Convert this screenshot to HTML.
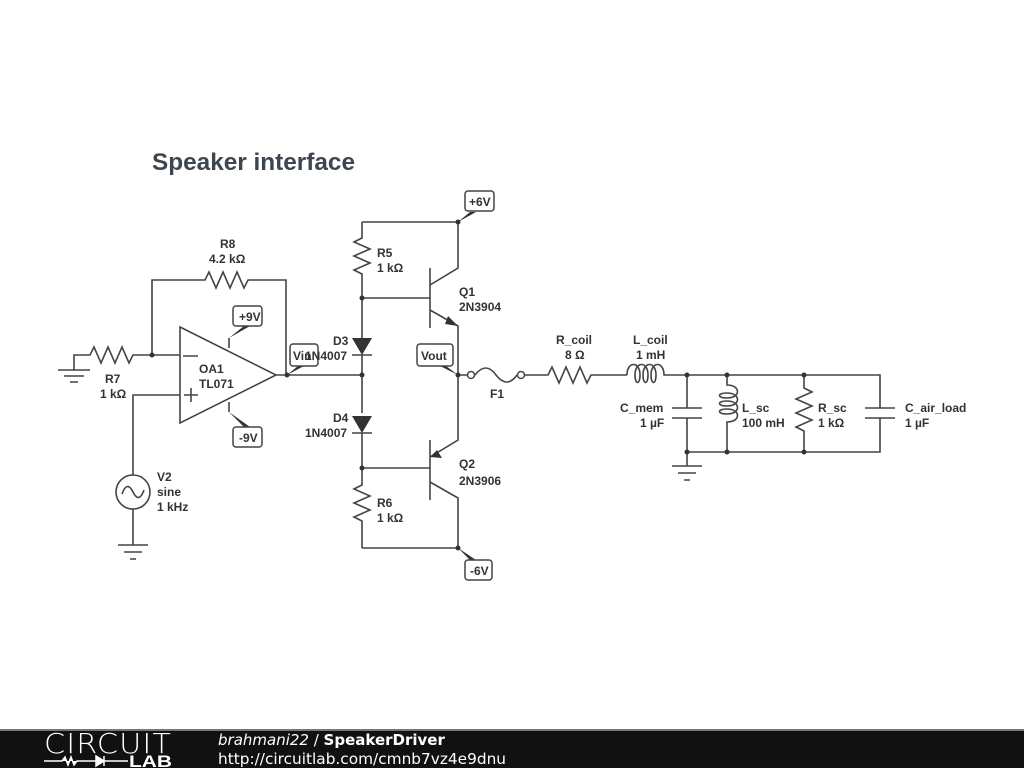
<!DOCTYPE html>
<html><head><meta charset="utf-8"><style>
html,body{margin:0;padding:0;background:#fff;width:1024px;height:768px;overflow:hidden}
svg{display:block}
.t{font-family:"Liberation Sans",sans-serif;font-weight:bold;font-size:12px;fill:#333}
.w{stroke:#444;stroke-width:1.6;fill:none}
</style></head><body>
<svg width="1024" height="768" viewBox="0 0 1024 768">
<text x="152" y="170" font-family="Liberation Sans,sans-serif" font-weight="bold" font-size="24" fill="#3d4650" textLength="203" lengthAdjust="spacingAndGlyphs">Speaker interface</text>
<g class="w">
<path d="M74,370 V355 H90 l4,-8 l7,16 l7,-16 l7,16 l7,-16 l7,16 l4,-8 H180"/>
<path d="M58,370 H90 M64,376 H84 M70,382 H78"/>
<path d="M152,355 V280 H205 l4,-8 l7,16 l7,-16 l7,16 l7,-16 l7,16 l4,-8 H286 V375"/>
<path d="M180,327 L276,375 L180,423 Z"/>
<path d="M183,356 H198 M184,395 H198 M191,388 V402"/>
<path d="M276,375 H362"/>
<path d="M180,395 H133 V475 M133,509 V545 M118,545 H148 M124,552 H142 M130,559 H136"/>
<circle cx="133" cy="492" r="17"/>
<path d="M122,494 q5,-14 11,-2 q6,12 11,-2"/>
<path d="M229,348 V338 M229,402 V412"/>
<path d="M362,222 H458 V268 L430,285 M430,268 V328 M430,310 L458,326 V440 L430,457 M430,440 V500 M430,482 L458,498 V548 H362"/>
<path d="M362,222 V238 l-8,4 l16,7 l-16,7 l16,7 l-16,7 l8,4 V338 M362,355 V413 M362,433 V485 l-8,4 l16,7 l-16,7 l16,7 l-16,7 l8,4 V548"/>
<path d="M362,298 H430 M362,468 H430"/>
<path d="M352,355 H372 M352,433 H372"/>
<path d="M458,375 H467 M475,375 q11,-14 21,0 q11,14 21,0 M525,375 H548 l4,-8 l7,16 l7,-16 l7,16 l7,-16 l7,16 l4,-8 H627"/>
<path d="M627,375 c0,-14 13,-14 13,0 c0,10 -5,10 -5,0 c0,-14 13,-14 13,0 c0,10 -5,10 -5,0 c0,-14 13,-14 13,0 c0,10 -5,10 -5,0 c0,-14 13,-14 13,0 H880 V408 M880,418 V452 H687 V418 M687,408 V375"/>
<path d="M672,408 H702 M672,418 H702 M865,408 H895 M865,418 H895"/>
<path d="M727,375 V385 c14,0 14,13 0,13 c-10,0 -10,-5 0,-5 c14,0 14,13 0,13 c-10,0 -10,-5 0,-5 c14,0 14,13 0,13 c-10,0 -10,-5 0,-5 c14,0 14,13 0,13 V452"/>
<path d="M804,375 V388 l8,4 l-16,7 l16,7 l-16,7 l16,7 l-16,7 l8,4 V452"/>
<path d="M687,452 V466 M672,466 H702 M678,473 H696 M684,480 H690"/>
</g>
<circle cx="471" cy="375" r="3.5" fill="#fff" stroke="#444" stroke-width="1.5"/>
<circle cx="521" cy="375" r="3.5" fill="#fff" stroke="#444" stroke-width="1.5"/>
<g fill="#333">
<path d="M352,338 H372 L362,355 Z M352,416 H372 L362,433 Z"/>
<path d="M458,326 L448,316 L445,324 Z M430,457 L442,458 L437,450 Z"/>
<circle cx="152" cy="355" r="2.5"/><circle cx="287" cy="375" r="2.5"/><circle cx="362" cy="375" r="2.5"/>
<circle cx="362" cy="298" r="2.5"/><circle cx="362" cy="468" r="2.5"/><circle cx="458" cy="222" r="2.5"/>
<circle cx="458" cy="548" r="2.5"/><circle cx="458" cy="375" r="2.5"/>
<circle cx="687" cy="375" r="2.5"/><circle cx="727" cy="375" r="2.5"/><circle cx="804" cy="375" r="2.5"/>
<circle cx="687" cy="452" r="2.5"/><circle cx="727" cy="452" r="2.5"/><circle cx="804" cy="452" r="2.5"/>
<path d="M229,338 L244,326 L250,326 Z M229,412 L244,427 L250,427 Z M287,375 L298,366 L304,366 Z M458,375 L440,366 L446,366 Z M458,222 L470,212 L476,212 Z M458,548 L470,560 L476,560 Z"/>
</g>
<g fill="#fff" stroke="#444" stroke-width="1.5">
<rect x="233" y="306" width="29" height="20" rx="3"/>
<rect x="233" y="427" width="29" height="20" rx="3"/>
<rect x="290" y="344" width="28" height="22" rx="3"/>
<rect x="417" y="344" width="36" height="22" rx="3"/>
<rect x="465" y="191" width="29" height="20" rx="3"/>
<rect x="465" y="560" width="27" height="20" rx="3"/>
</g>
<g class="t">
<text x="239" y="321">+9V</text><text x="239" y="442">-9V</text>
<text x="293" y="360">Vin</text><text x="421" y="360">Vout</text>
<text x="469" y="206">+6V</text><text x="470" y="575">-6V</text>
<text x="220" y="248">R8</text><text x="209" y="263">4.2 kΩ</text>
<text x="105" y="383">R7</text><text x="100" y="398">1 kΩ</text>
<text x="199" y="373">OA1</text><text x="199" y="388">TL071</text>
<text x="157" y="481">V2</text><text x="157" y="496">sine</text><text x="157" y="511">1 kHz</text>
<text x="377" y="257">R5</text><text x="377" y="272">1 kΩ</text>
<text x="377" y="507">R6</text><text x="377" y="522">1 kΩ</text>
<text x="333" y="345">D3</text><text x="305" y="360">1N4007</text>
<text x="333" y="422">D4</text><text x="305" y="437">1N4007</text>
<text x="459" y="296">Q1</text><text x="459" y="311">2N3904</text>
<text x="459" y="468">Q2</text><text x="459" y="485">2N3906</text>
<text x="490" y="398">F1</text>
<text x="556" y="344">R_coil</text><text x="565" y="359">8 Ω</text>
<text x="633" y="344">L_coil</text><text x="636" y="359">1 mH</text>
<text x="620" y="412">C_mem</text><text x="640" y="427">1 µF</text>
<text x="742" y="412">L_sc</text><text x="742" y="427">100 mH</text>
<text x="818" y="412">R_sc</text><text x="818" y="427">1 kΩ</text>
<text x="905" y="412">C_air_load</text><text x="905" y="427">1 µF</text>
</g>
<rect x="0" y="729" width="1024" height="39" fill="#111"/>
<rect x="0" y="729" width="1024" height="2" fill="#777"/>
<text x="44" y="753" font-family="DejaVu Sans,sans-serif" font-size="28" font-weight="200" fill="#fff" letter-spacing="1" textLength="128" lengthAdjust="spacingAndGlyphs">CIRCUIT</text>
<path d="M44,761 H62 l3,-4 l3,8 l3,-8 l3,8 l3,-4 H96 M96,756 V766 L104,761 Z M104,756 V766 M104,761 H128" stroke="#fff" stroke-width="1.5" fill="#fff"/>
<text x="129" y="767" font-family="Liberation Sans,sans-serif" font-size="17" font-weight="bold" fill="#fff" textLength="43" lengthAdjust="spacingAndGlyphs">LAB</text>
<text x="218" y="745" font-family="DejaVu Sans,sans-serif" font-size="15" fill="#fff"><tspan font-style="italic">brahmani22</tspan> / <tspan font-weight="bold">SpeakerDriver</tspan></text>
<text x="218" y="764" font-family="DejaVu Sans,sans-serif" font-size="15" fill="#fff" textLength="288" lengthAdjust="spacingAndGlyphs">http://circuitlab.com/cmnb7vz4e9dnu</text>
</svg>
</body></html>
